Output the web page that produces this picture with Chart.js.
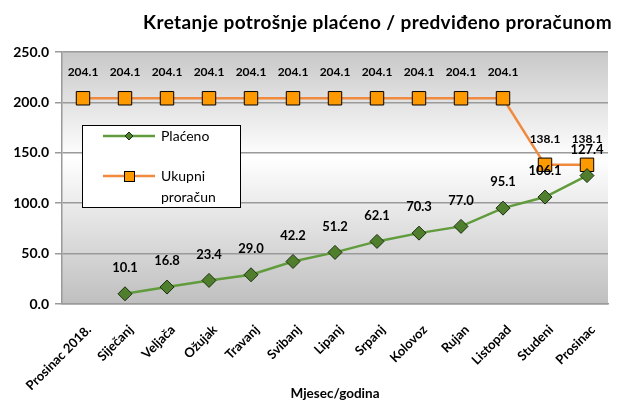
<!DOCTYPE html>
<html>
<head>
<meta charset="utf-8">
<script src="https://cdn.jsdelivr.net/npm/chart.js@4.4.1/dist/chart.umd.min.js"></script>
<style>
  html, body { margin: 0; padding: 0; background: #fff; }
  #wrap { width: 622px; height: 407px; position: relative; }
</style>
</head>
<body>
<div id="wrap"><canvas id="potrosnjaChart"></canvas></div>
<script>
// DATA
const months = ['Prosinac 2018.', 'Siječanj', 'Veljača', 'Ožujak', 'Travanj', 'Svibanj', 'Lipanj',
  'Srpanj', 'Kolovoz', 'Rujan', 'Listopad', 'Studeni', 'Prosinac'];
const placeno = [null, 10.1, 16.8, 23.4, 29.0, 42.2, 51.2, 62.1, 70.3, 77.0, 95.1, 106.1, 127.4];
const ukupniProracun = [204.1, 204.1, 204.1, 204.1, 204.1, 204.1, 204.1, 204.1, 204.1, 204.1, 204.1, 138.1, 138.1];
const yTicks = [0, 50, 100, 150, 200, 250];

const FONT = 'Lato, "Open Sans", sans-serif';

/* gray-white-gray plot background, like the excel one */
const plotBackground = {
  id: 'plotBackground',
  beforeDraw(chart) {
    const { ctx, chartArea: a } = chart;
    const g = ctx.createLinearGradient(0, a.top, 0, a.bottom);
    g.addColorStop(0, '#c8c8c8');
    g.addColorStop(0.42, '#ffffff');
    g.addColorStop(1, '#bfbfbf');
    ctx.save();
    ctx.fillStyle = g;
    ctx.fillRect(a.left, a.top, a.right - a.left, a.bottom - a.top);
    ctx.restore();
  }
};

/* value labels above points, title and legend box */
const extras = {
  id: 'extras',
  afterDatasetsDraw(chart) {
    const ctx = chart.ctx;
    ctx.save();
    ctx.textAlign = 'center';
    ctx.textBaseline = 'middle';
    ctx.fillStyle = '#000';
    // orange first, green on top
    [1, 0].forEach((di) => {
      const meta = chart.getDatasetMeta(di);
      const values = chart.data.datasets[di].data;
      ctx.font = di === 1 ? 'bold 12px ' + FONT : 'bold 13px ' + FONT;
      meta.data.forEach((pt, i) => {
        if (values[i] == null) return;
        ctx.fillText(values[i].toFixed(1), pt.x, pt.y - 26);
      });
    });

    // title
    ctx.font = 'bold 19px ' + FONT;
    ctx.letterSpacing = '0.4px';
    ctx.textAlign = 'right';
    ctx.fillText('Kretanje potrošnje plaćeno / predviđeno proračunom', 612, 23);
    ctx.letterSpacing = '0px';

    // legend
    const lx = 82, ly = 125, lw = 158, lh = 82;
    ctx.fillStyle = '#fff';
    ctx.fillRect(lx, ly, lw, lh);
    ctx.strokeStyle = '#000';
    ctx.lineWidth = 1;
    ctx.strokeRect(lx + 0.5, ly + 0.5, lw, lh);

    ctx.lineWidth = 2.5;
    ctx.strokeStyle = '#609b3c';
    ctx.beginPath(); ctx.moveTo(103, 136); ctx.lineTo(155, 136); ctx.stroke();
    ctx.fillStyle = '#4f7f2d';
    ctx.strokeStyle = '#1c2e12';
    ctx.lineWidth = 1;
    ctx.beginPath();
    ctx.moveTo(129, 132); ctx.lineTo(133, 136); ctx.lineTo(129, 140); ctx.lineTo(125, 136);
    ctx.closePath(); ctx.fill(); ctx.stroke();

    ctx.lineWidth = 2.5;
    ctx.strokeStyle = '#f08a3e';
    ctx.beginPath(); ctx.moveTo(103, 176); ctx.lineTo(155, 176); ctx.stroke();
    ctx.fillStyle = '#ff9900';
    ctx.strokeStyle = '#000';
    ctx.lineWidth = 1;
    ctx.fillRect(124.5, 171.5, 10, 10);
    ctx.strokeRect(124.5, 171.5, 10, 10);

    ctx.fillStyle = '#000';
    ctx.font = '14px ' + FONT;
    ctx.textAlign = 'left';
    ctx.fillText('Plaćeno', 161, 136);
    ctx.fillText('Ukupni', 161, 176);
    ctx.fillText('proračun', 161, 197);
    ctx.restore();
  }
};

const config = {
  type: 'line',
  data: {
    labels: months,
    datasets: [
      {
        label: 'Plaćeno',
        data: placeno,
        borderColor: '#609b3c',
        borderWidth: 2.5,
        pointStyle: 'rectRot',
        pointRadius: 7,
        pointBackgroundColor: '#4f7f2d',
        pointBorderColor: '#1c2e12',
        pointBorderWidth: 1,
        tension: 0,
        order: 1
      },
      {
        label: 'Ukupni proračun',
        data: ukupniProracun,
        borderColor: '#f08a3e',
        borderWidth: 2.5,
        pointStyle: 'rect',
        pointRadius: 9.5,
        pointBackgroundColor: '#ff9900',
        pointBorderColor: '#000',
        pointBorderWidth: 1,
        tension: 0,
        order: 2
      }
    ]
  },
  options: {
    responsive: true,
    maintainAspectRatio: false,
    animation: false,
    layout: { padding: { top: 52, right: 14, left: 0, bottom: 0 } },
    scales: {
      x: {
        offset: true,
        grid: { display: false },
        border: { color: '#9a9a9a', width: 1.5 },
        ticks: {
          color: '#000',
          font: { family: FONT, weight: 'bold', size: 13 },
          maxRotation: 45,
          minRotation: 45,
          autoSkip: false,
          padding: 10,
          labelOffset: 6
        },
        title: {
          display: true,
          text: 'Mjesec/godina',
          color: '#000',
          font: { family: FONT, weight: 'bold', size: 13.5 },
          padding: { top: 0, bottom: 5 }
        },
        afterFit: (scale) => { scale.height = 103; }
      },
      y: {
        min: 0,
        max: 250,
        afterBuildTicks: (scale) => { scale.ticks = yTicks.map((v) => ({ value: v })); },
        grid: { color: '#9a9a9a', lineWidth: 1.5, tickLength: 7, drawTicks: true },
        border: { color: '#9a9a9a', width: 1.5 },
        ticks: {
          color: '#000',
          padding: 6,
          font: { family: FONT, weight: 'bold', size: 14 },
          callback: (v) => Number(v).toFixed(1)
        },
        afterFit: (scale) => { scale.width = 62; }
      }
    },
    plugins: {
      legend: { display: false },
      tooltip: { enabled: false },
      title: { display: false }
    }
  },
  plugins: [plotBackground, extras]
};

const potrosnjaChart = new Chart(document.getElementById('potrosnjaChart'), config);
</script>
</body>
</html>
